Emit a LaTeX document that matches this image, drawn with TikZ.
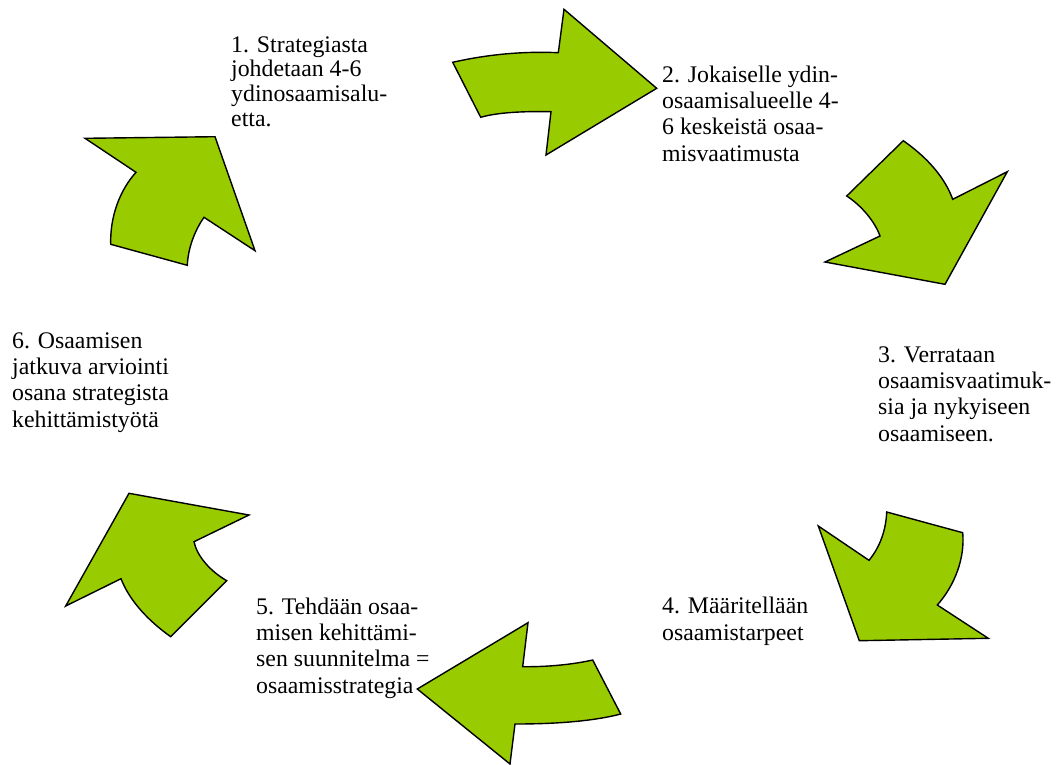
\documentclass[tikz,border=0pt]{standalone}
\usepackage{fontspec}
\setmainfont{Liberation Serif}
\definecolor{arrowgreen}{HTML}{99CC00}
\begin{document}
\begin{tikzpicture}[x=1pt,y=-1pt,
  blockarrow/.style={fill=arrowgreen,draw=black,line width=1.4pt,line join=miter},
  steptext/.style={anchor=base west,inner sep=0pt,align=left,
    font=\fontsize{23.8}{26.3}\selectfont}]
\useasboundingbox (0,0) rectangle (1058,764);
% arrow 1 (top)
\draw[blockarrow] (452.7,62.3) .. controls (485,55) and (520,51) .. (558.3,52.7)
  -- (564,9.3) -- (656.7,88.3) -- (546,155) -- (551,111.7)
  .. controls (520,111) and (495,113) .. (480.7,117.3) -- cycle;
% arrow 2 (upper right)
\draw[blockarrow] (903.3,140.7) .. controls (928,158) and (945,178) .. (952.7,199.3)
  -- (1007.3,171.7) -- (945,284.3) -- (825,262) -- (880,236)
  .. controls (875,222) and (862,206) .. (846.7,196) -- cycle;
% arrow 3 (lower right)
\draw[blockarrow] (886.7,512) -- (962.7,532.7)
  .. controls (965,558) and (955,585) .. (937.3,605)
  -- (988.3,638.3) -- (859.3,640.7) -- (818.3,526) -- (869,560.3)
  .. controls (880,547) and (886,530) .. cycle;
% arrow 4 (bottom)
\draw[blockarrow] (592.7,660) -- (620.7,714)
  .. controls (590,722) and (550,724) .. (515,724)
  -- (510,764) -- (417.3,689) -- (528,622.7) -- (522.7,666.7)
  .. controls (550,667) and (575,664) .. cycle;
% arrow 5 (lower left)
\draw[blockarrow] (129,493.3) -- (249,515) -- (194,541.7)
  .. controls (197,556) and (210,571) .. (226.7,580.7)
  -- (170.7,636.7)
  .. controls (150,622) and (130,602) .. (121,578.7)
  -- (65.7,606) -- cycle;
% arrow 6 (upper left)
\draw[blockarrow] (85,138.3) -- (215,136.7) -- (255,250.7) -- (204,217.3)
  .. controls (195,230) and (188,248) .. (187.3,265.3)
  -- (110.7,244.3)
  .. controls (110,216) and (120,190) .. (136,172.3) -- cycle;
% texts (anchor = baseline of last line)
\node[steptext,font=\fontsize{23.8}{24.6}\selectfont] (t1) at (231,126) {1. Strategiasta\\johdetaan 4-6\\ydinosaamisalu-\\etta.};
\node[steptext] (t2) at (662,161) {2. Jokaiselle ydin-\\osaamisalueelle 4-\\6 keskeistä osaa-\\misvaatimusta};
\node[steptext] (t3) at (878,441) {3. Verrataan\\osaamisvaatimuk-\\sia ja nykyiseen\\osaamiseen.};
\node[steptext] (t4) at (662,640) {4. Määritellään\\osaamistarpeet};
\node[steptext] (t5) at (256,693) {5. Tehdään osaa-\\misen kehittämi-\\sen suunnitelma =\\osaamisstrategia};
\node[steptext] (t6) at (12,427) {6. Osaamisen\\jatkuva arviointi\\osana strategista\\kehittämistyötä};
\end{tikzpicture}
\end{document}
